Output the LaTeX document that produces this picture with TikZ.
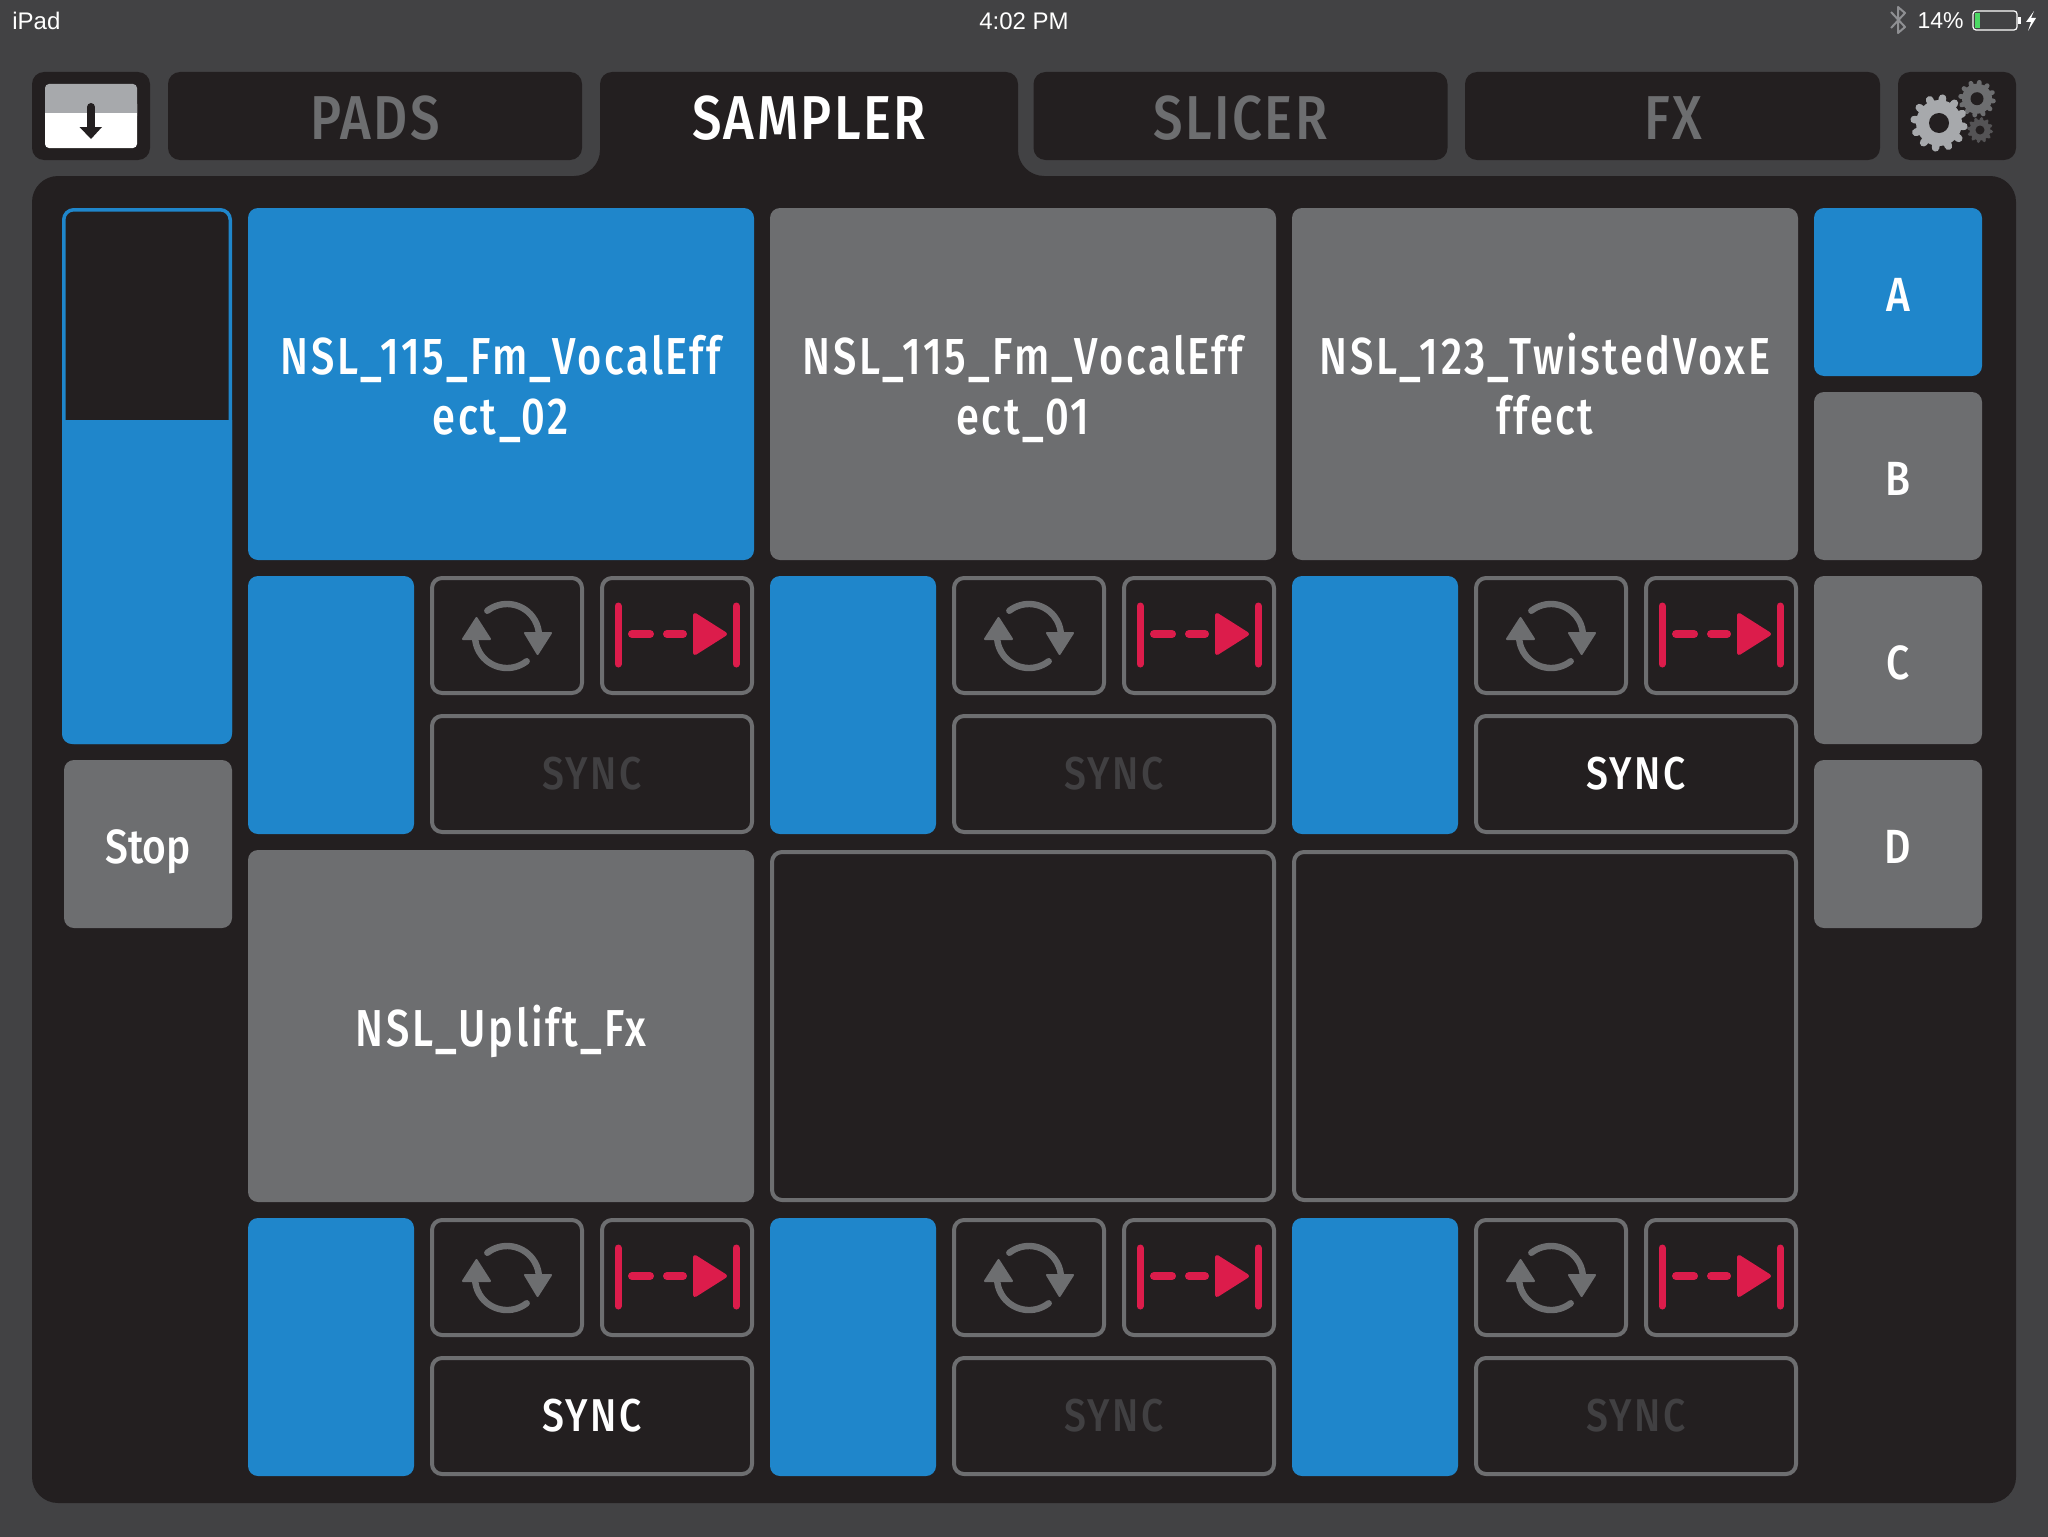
\documentclass[tikz,border=0pt]{standalone}
\usepackage{fontspec}
\setmainfont{Liberation Sans}
\newfontfamily\dinfont[FakeStretch=0.85,LetterSpace=5]{Fira Sans Medium}
\newfontfamily\dintabfont[FakeStretch=0.85,LetterSpace=3.8]{Fira Sans Medium}
\newfontfamily\dinpadfont[FakeStretch=0.8,LetterSpace=5]{Fira Sans Medium}
\newfontfamily\dinsidefont[FakeStretch=0.85]{Fira Sans Medium}
\definecolor{bgcol}{HTML}{424244}
\definecolor{panelcol}{HTML}{231F20}
\definecolor{bluecol}{HTML}{1F86CB}
\definecolor{greycol}{HTML}{6D6E70}
\definecolor{dimcol}{HTML}{414042}
\definecolor{pinkcol}{HTML}{DC1C4B}
\definecolor{gearcol}{HTML}{A7A9AC}
\definecolor{battcol}{HTML}{4CD964}

\begin{document}
\begin{tikzpicture}[x=0.5pt,y=-0.5pt,line join=round]
	\tikzstyle{status} = [text=white, inner sep=0pt, font=\fontsize{12}{14}\selectfont]
	\tikzstyle{tabbox} = [fill=panelcol, rounded corners=6pt, minimum height=44pt, inner sep=0pt]
	\tikzstyle{tablabel} = [inner sep=0pt, text height=21.5pt, text depth=0pt, font=\dintabfont\fontsize{31}{34}\selectfont]
	\tikzstyle{padlabel} = [text=white, align=center, inner sep=0pt, text height=20pt, text depth=0pt, font=\dinpadfont\fontsize{26}{30}\selectfont]
	\tikzstyle{pad} = [padlabel, fill=greycol, rounded corners=5pt, minimum width=253pt, minimum height=176pt]
	\tikzstyle{hotpad} = [pad, fill=bluecol]
	\tikzstyle{twolines} = [text height=50pt]
	\tikzstyle{emptypad} = [draw=greycol, line width=2pt, fill=panelcol, rounded corners=5pt, minimum width=251pt, minimum height=174pt]
	\tikzstyle{side} = [padlabel, fill=greycol, rounded corners=5pt, minimum width=84pt, minimum height=84pt, text height=19pt, font=\dinsidefont\fontsize{24}{30}\selectfont]
	\tikzstyle{strip} = [fill=bluecol, rounded corners=5pt, minimum width=83pt, minimum height=129pt, inner sep=0pt]
	\tikzstyle{ctrl} = [draw=greycol, line width=2pt, fill=panelcol, rounded corners=5pt, minimum width=75pt, minimum height=57.5pt, inner sep=0pt]
	\tikzstyle{syncbox} = [ctrl, minimum width=160pt, minimum height=58pt, font=\dinfont\fontsize{23}{26}\selectfont]

	\useasboundingbox (0,0) rectangle (2048,1536);
	\fill[bgcol] (-4,-4) rectangle (2052,1540);

	% status bar
	\node[status, anchor=west] (carrier) at (12,21) {iPad};
	\node[status] (clock) at (1024,21) {4:02 PM};
	\node[status, anchor=east, font=\fontsize{11.5}{14}\selectfont] (percent) at (1964,21) {14\%};
	\draw[gearcol!75!bgcol, line width=1pt] (1891,12) -- (1905,27) -- (1898,33) -- (1898,7) -- (1905,13) -- (1891,28);
	\draw[white, line width=0.6pt, rounded corners=1.5pt] (1973,11) rectangle (2017,30);
	\fill[battcol] (1974.5,13) rectangle (1980,28);
	\fill[white] (2018,17) rectangle (2021,24);
	\fill[white] (2034,11) -- (2026,22) -- (2031,22) -- (2028,31) -- (2036,18) -- (2031,18) -- cycle;

	% tabs and panel
	\fill[panelcol, rounded corners=13pt] (32,176) -- (600,176) [rounded corners=6pt] -- (600,72) -- (1018,72) [rounded corners=13pt] -- (1018,176) -- (2016,176) -- (2016,1503) -- (32,1503) -- cycle;
	\node[tabbox, minimum width=59pt] (download) at (91,116) {};
	\node[tabbox, minimum width=207pt] (pads) at (375,116) {};
	\node[tabbox, minimum width=207pt] (slicer) at (1240.5,116) {};
	\node[tabbox, minimum width=207.5pt] (fx) at (1672.5,116) {};
	\node[tabbox, minimum width=59pt] (settings) at (1957,116) {};
	\node[tablabel, text=greycol] (padstext) at (375,118) {PADS};
	\node[tablabel, text=white] (samplertext) at (809,118) {SAMPLER};
	\node[tablabel, text=greycol] (slicertext) at (1240.5,118) {SLICER};
	\node[tablabel, text=greycol] (fxtext) at (1673,118) {FX};

	% download icon
	\fill[white, rounded corners=2pt] (45,100) rectangle (137,148);
	\fill[gearcol, rounded corners=2pt] (45,84) rectangle (137,120);
	\fill[white] (45,113) rectangle (137,125);
	\draw[panelcol, line width=4pt, line cap=round] (91,107) -- (91,130);
	\fill[panelcol] (79.5,127) -- (102,127) -- (91,139) -- cycle;

	% gears
	\foreach \gx/\gy/\gout/\groot/\ghole/\gtooth/\gcol in {1980/130/11.5/10.5/4.5/1.7/dimcol!90!white, 1977/98.7/16.5/15/6.5/2.4/greycol, 1939/123/25/23/10/3.8/gearcol} {
		\fill[\gcol] (\gx,\gy) circle[radius=\groot];
		\foreach \a in {8,38,...,338}
			\draw[\gcol, line width=\gtooth pt, line cap=round] (\gx,\gy) -- ++(\a:\gout);
		\fill[panelcol] (\gx,\gy) circle[radius=\ghole];
	}

	% level meter and stop
	\node[draw=bluecol, line width=1.75pt, fill=panelcol, rounded corners=5pt, minimum width=83.25pt, minimum height=266.25pt, inner sep=0pt] (meter) at (147,476) {};
	\fill[bluecol, rounded corners=5pt] (62,420) [sharp corners] -- (232,420) [rounded corners=5pt] -- (232,744) -- (62,744) [sharp corners] -- cycle;
	\node[side] (stop) at (148,844) {Stop};

	% sample pads
	\node[hotpad, twolines] (padA) at (501,384) {NSL\_115\_Fm\_VocalEff\\ect\_02};
	\node[pad, twolines] (padB) at (1023,384) {NSL\_115\_Fm\_VocalEff\\ect\_01};
	\node[pad, twolines] (padC) at (1545,384) {NSL\_123\_TwistedVoxE\\ffect};
	\node[pad] (padD) at (501,1026) {NSL\_Uplift\_Fx};
	\node[emptypad] (padE) at (1023,1026) {};
	\node[emptypad] (padF) at (1545,1026) {};

	% bank buttons
	\node[side, fill=bluecol] (bankA) at (1898,292) {A};
	\node[side] (bankB) at (1898,476) {B};
	\node[side] (bankC) at (1898,660) {C};
	\node[side] (bankD) at (1898,844) {D};

	% controls below each pad
	\foreach \n/\px/\py/\synccol in {1/248/576/dimcol, 2/770/576/dimcol, 3/1292/576/white, 4/248/1218/white, 5/770/1218/dimcol, 6/1292/1218/dimcol} {
		\begin{scope}[shift={(\px,\py)}]
			\node[strip] (strip\n) at (83,129) {};
			\node[ctrl] (loop\n) at (259,59.5) {};
			\node[ctrl] (skip\n) at (429,59.5) {};
			\node[syncbox, text=\synccol] (sync\n) at (344,198) {SYNC};
			\draw[greycol, line width=3.2pt, line cap=round] (259,60) ++(232:32) arc[start angle=232, end angle=353, radius=32];
			\draw[greycol, line width=3.2pt, line cap=round] (259,60) ++(52:32) arc[start angle=52, end angle=173, radius=32];
			\fill[greycol, draw=greycol, line width=1pt] (228.5,42) -- (215,63) -- (242,63) -- cycle;
			\fill[greycol, draw=greycol, line width=1pt] (289.6,78) -- (277,57) -- (303,57) -- cycle;
			\draw[pinkcol, line width=3.5pt, line cap=round] (370,30) -- (370,88);
			\draw[pinkcol, line width=3.5pt, line cap=round] (488,30) -- (488,88);
			\draw[pinkcol, line width=4pt, line cap=round] (384,58) -- (402,58);
			\draw[pinkcol, line width=4pt, line cap=round] (419,58) -- (435,58);
			\fill[pinkcol, draw=pinkcol, line width=2pt] (447,39) -- (447,77) -- (477,58) -- cycle;
		\end{scope}
	}
\end{tikzpicture}
\end{document}
